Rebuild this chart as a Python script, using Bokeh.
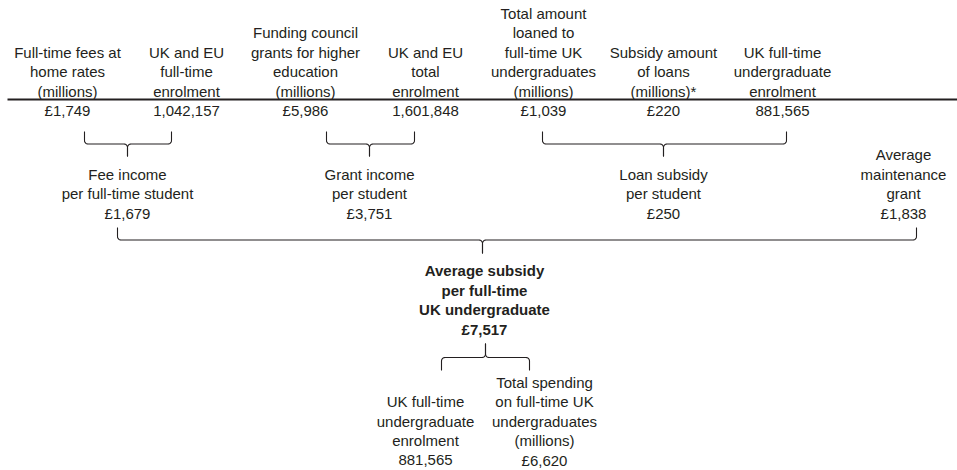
import numpy as np
from bokeh.plotting import figure
from bokeh.models import Range1d, ColumnDataSource
from bokeh.core.properties import value
from bokeh.embed import file_html
from bokeh.resources import INLINE

# ---------------- data (texts and values) ----------------
input_labels = [
    "Full-time fees at\nhome rates\n(millions)",
    "UK and EU\nfull-time\nenrolment",
    "Funding council\ngrants for higher\neducation\n(millions)",
    "UK and EU\ntotal\nenrolment",
    "Total amount\nloaned to\nfull-time UK\nundergraduates\n(millions)",
    "Subsidy amount\nof loans\n(millions)*",
    "UK full-time\nundergraduate\nenrolment",
]
input_values = ["£1,749", "1,042,157", "£5,986", "1,601,848", "£1,039", "£220", "881,565"]

per_student_labels = [
    "Fee income\nper full-time student",
    "Grant income\nper student",
    "Loan subsidy\nper student",
    "Average\nmaintenance\ngrant",
]
per_student_values = ["£1,679", "£3,751", "£250", "£1,838"]

total_label = "Average subsidy\nper full-time\nUK undergraduate"
total_value = "£7,517"

basis_labels = [
    "UK full-time\nundergraduate\nenrolment",
    "Total spending\non full-time UK\nundergraduates\n(millions)",
]
basis_values = ["881,565", "£6,620"]

# ---------------- layout (pixel positions) ----------------
W, H = 957, 470
LINE = 19.4
INK = "#231f20"
FONT = "Liberation Sans"

input_x = [67, 186, 305, 425, 543, 663, 782]
input_value_y = 110
per_x = [127, 369, 663, 903]
per_value_y = 212.5
total_x = 484
total_value_y = 328.5
basis_x = [425, 544]
basis_value_y = 459.5

rule = dict(x0=7, x1=957, y=99)
# (left end, right end, stem x, end tip y, bar y, stem tip y)
brackets = [
    (84, 171, 127, 131, 143.5, 156),
    (326, 414, 369, 131, 143.5, 156),
    (542, 786, 663, 131, 143.5, 156),
    (117, 916, 482, 227, 239.5, 253),
    (441, 529, 485, 370, 357, 343),
]

p = figure(width=W, height=H, output_backend="svg", toolbar_location=None,
           x_range=Range1d(0, W), y_range=Range1d(H, 0),
           min_border=0, background_fill_color="white", border_fill_color="white")
p.axis.visible = False
p.grid.visible = False
p.outline_line_color = None


def block_lines(xs, labels, values, value_y):
    lx, ly, lt = [], [], []
    for x, lab, val in zip(xs, labels, values):
        rows = lab.split("\n") + [val]
        n = len(rows)
        for i, r in enumerate(rows):
            lx.append(x)
            ly.append(value_y - (n - 1 - i) * LINE)
            lt.append(r)
    return ColumnDataSource(dict(x=lx, y=ly, text=lt))


def add_text(src, bold=False):
    p.text(x="x", y="y", text="text", source=src,
           text_font=value(FONT), text_font_size="15px",
           text_font_style="bold" if bold else "normal",
           text_align="center", text_baseline="middle", text_color=INK)


add_text(block_lines(input_x, input_labels, input_values, input_value_y))
add_text(block_lines(per_x, per_student_labels, per_student_values, per_value_y))
add_text(block_lines([total_x], [total_label], [total_value], total_value_y), bold=True)
add_text(block_lines(basis_x, basis_labels, basis_values, basis_value_y))

# top rule
p.line([rule["x0"], rule["x1"]], [rule["y"], rule["y"]], line_color=INK, line_width=2)


def half(xe, xm, ytip, ybar, ystem, r=3.5):
    s = 1 if ybar > ytip else -1   # direction from tip to bar
    d = 1 if xm > xe else -1       # direction from end to stem
    t = np.linspace(0, np.pi / 2, 8)
    xs = [xe]
    ys = [ytip]
    cx, cy = xe + d * r, ybar - s * r
    xs += list(cx - d * r * np.cos(t))
    ys += list(cy + s * r * np.sin(t))
    cx, cy = xm - d * r, ybar + s * r
    xs += list(cx + d * r * np.sin(t))
    ys += list(cy - s * r * np.cos(t))
    xs.append(xm)
    ys.append(ystem)
    return xs, ys


mx, my = [], []
for (a, b, m, yt, yb, ys_) in brackets:
    for e in (a, b):
        hx, hy = half(e, m, yt, yb, ys_)
        mx.append(hx)
        my.append(hy)
p.multi_line(mx, my, line_color=INK, line_width=1.1)

open("out.html", "w").write(file_html(p, INLINE))
